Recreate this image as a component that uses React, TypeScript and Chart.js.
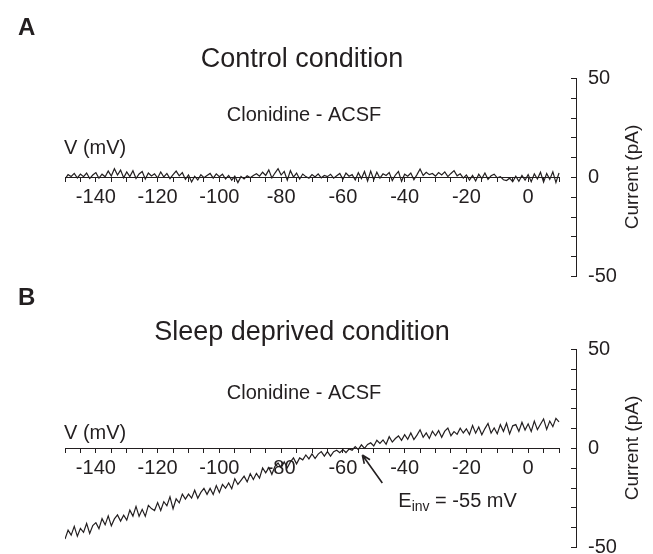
import React, { useEffect, useRef } from "react";
import { Chart, registerables } from "chart.js";

Chart.register(...registerables);

const FONT = '"Liberation Sans", Arial, Helvetica, sans-serif';
const INK = "#231f20";

// Membrane voltage of each sample (mV)
const voltageMv = [
  -150, -149, -148, -147, -146, -145, -144, -143, -142, -141,
  -140, -139, -138, -137, -136, -135, -134, -133, -132, -131,
  -130, -129, -128, -127, -126, -125, -124, -123, -122, -121,
  -120, -119, -118, -117, -116, -115, -114, -113, -112, -111,
  -110, -109, -108, -107, -106, -105, -104, -103, -102, -101,
  -100, -99, -98, -97, -96, -95, -94, -93, -92, -91,
  -90, -89, -88, -87, -86, -85, -84, -83, -82, -81,
  -80, -79, -78, -77, -76, -75, -74, -73, -72, -71,
  -70, -69, -68, -67, -66, -65, -64, -63, -62, -61,
  -60, -59, -58, -57, -56, -55, -54, -53, -52, -51,
  -50, -49, -48, -47, -46, -45, -44, -43, -42, -41,
  -40, -39, -38, -37, -36, -35, -34, -33, -32, -31,
  -30, -29, -28, -27, -26, -25, -24, -23, -22, -21,
  -20, -19, -18, -17, -16, -15, -14, -13, -12, -11,
  -10, -9, -8, -7, -6, -5, -4, -3, -2, -1,
  0, 1, 2, 3, 4, 5, 6, 7, 8, 9, 10,
];

// Panel A: control condition, clonidine - ACSF difference current (pA)
const controlCurrentPa = [
  -1.0, 1.2, 0.3, 1.8, -0.5, 1.5, 0.2, 2.0, -0.8, 1.0,
  2.2, -0.6, 1.4, 0.1, 3.0, 0.5, 4.2, 1.0, 3.5, -0.4,
  2.6, 0.2, 3.2, -0.8, 1.5, 2.8, -1.0, 2.0, 0.5, 1.6,
  -0.5, 2.5, 0.0, 1.8, -0.8, 1.2, 3.0, 0.6, 2.2, -1.2,
  1.0, -2.5, 0.4, -1.5, 1.2, -0.4, 0.8, 1.8, -0.6, 1.6,
  0.2, 1.4, -1.0, 0.8, -1.6, 0.4, -2.8, 0.3, -1.0, 0.6,
  -0.4, 0.8, 1.6, 0.4, 2.4, 0.8, 3.6, -0.5, 2.0, 4.2,
  1.0, 2.8, -1.6, 3.2, 0.0, 2.0, -1.0, 1.5, 0.2, -0.6,
  1.2, 0.0, 1.6, -0.4, 0.8, 0.2, 1.4, -0.6, 0.6, 1.8,
  -1.2, 2.0, 0.4, 1.2, -1.5, 2.2, -0.8, 2.8, -2.0, 3.0,
  -1.4, 2.4, -0.6, 1.6, 0.8, 2.2, -1.8, 1.0, 2.8, -2.2,
  1.4, 0.4, 2.0, -1.4, 1.2, 4.0, 0.8, 2.4, 1.2, 1.8,
  0.4, 2.2, 1.0, 2.6, 0.2, 1.8, 3.2, 0.6, 1.6, -0.6,
  1.0, -1.6, 0.8, -2.0, 1.4, -0.8, 2.0, -1.2, 0.6, 1.4,
  -0.4, 0.2, -1.4, -1.8, -0.6, -2.4, 0.4, -2.2, 0.8, -1.6,
  1.2, -2.4, 1.6, -1.0, 2.4, -2.6, 1.8, -1.2, 2.6, -2.8, 2.0,
];

// Panel B: sleep deprived condition, clonidine - ACSF difference current (pA)
const sleepDeprivedCurrentPa = [
  -46.0, -41.5, -44.0, -39.6, -44.6, -40.6, -42.6, -38.1, -43.2, -39.2,
  -37.7, -40.7, -35.7, -38.8, -34.3, -39.3, -35.8, -33.8, -36.9, -33.9,
  -36.4, -31.4, -34.4, -29.5, -34.5, -31.0, -34.5, -29.0, -30.6, -31.6,
  -27.6, -31.6, -27.1, -29.2, -24.7, -30.7, -25.7, -27.7, -23.3, -25.8,
  -23.3, -25.3, -21.3, -25.4, -22.4, -20.4, -23.4, -20.4, -23.5, -19.0,
  -22.5, -18.4, -20.3, -17.7, -20.6, -15.5, -18.4, -16.3, -14.2, -17.1,
  -13.0, -15.9, -12.8, -15.2, -10.1, -12.5, -9.9, -13.3, -9.2, -7.6,
  -10.0, -7.0, -10.0, -7.0, -5.0, -8.0, -5.0, -6.0, -3.5, -5.5,
  -3.0, -5.3, -3.1, -1.8, -4.1, -1.8, -4.1, -1.9, -1.1, -2.4,
  -0.8, -2.3, -0.5, -1.1, 0.7, -0.8, 1.6, -0.2, 1.8, 2.6,
  1.0, 3.9, 2.3, 4.1, 1.9, 5.7, 3.0, 4.8, 6.1, 3.9,
  6.7, 4.4, 7.6, 4.3, 6.5, 9.2, 5.4, 7.6, 4.8, 8.5,
  6.2, 8.8, 5.4, 8.5, 10.1, 6.2, 8.3, 6.9, 10.0, 7.6,
  9.7, 6.8, 11.4, 7.5, 10.6, 6.7, 9.8, 12.4, 7.5, 10.1,
  7.2, 11.8, 8.4, 12.5, 7.1, 11.2, 11.8, 8.4, 13.0, 9.1,
  12.2, 8.4, 13.6, 9.3, 12.0, 14.7, 9.4, 13.6, 10.8, 15.0, 13.2,
];

const xTickLabels = [-140, -120, -100, -80, -60, -40, -20, 0];
const yTickValues = [-50, -40, -30, -20, -10, 0, 10, 20, 30, 40, 50];
const yTickLabels = [-50, 0, 50];
const reversalPotentialMv = -55;

type Panel = {
  letter: string;
  title: string;
  subtitle: string;
  values: number[];
  top: number;
  height: number;
  padTop: number;
  padBottom: number;
  letterY: number;
  titleY: number;
  subtitleY: number;
  vLabelY: number;
  titleSize: number;
  showReversal: boolean;
};

const panels: Panel[] = [
  {
    letter: "A",
    title: "Control condition",
    subtitle: "Clonidine - ACSF",
    values: controlCurrentPa,
    top: 0,
    height: 300,
    padTop: 78,
    padBottom: 24,
    letterY: 28,
    titleY: 60,
    subtitleY: 115,
    vLabelY: 148,
    titleSize: 27,
    showReversal: false,
  },
  {
    letter: "B",
    title: "Sleep deprived condition",
    subtitle: "Clonidine - ACSF",
    values: sleepDeprivedCurrentPa,
    top: 280,
    height: 274,
    padTop: 69,
    padBottom: 7,
    letterY: 18,
    titleY: 53,
    subtitleY: 113,
    vLabelY: 153,
    titleSize: 27,
    showReversal: true,
  },
];

function decorPlugin(p: Panel) {
  return {
    id: "decor" + p.letter,
    beforeDatasetsDraw(chart: any) {
      const { ctx, scales } = chart;
      const xs = scales.x;
      const ys = scales.y;
      const y0 = Math.round(ys.getPixelForValue(0)) + 0.5;
      ctx.save();
      ctx.strokeStyle = INK;
      ctx.lineWidth = 1;
      ctx.beginPath();
      ctx.moveTo(xs.getPixelForValue(voltageMv[0]), y0);
      ctx.lineTo(xs.getPixelForValue(voltageMv[voltageMv.length - 1]), y0);
      // inward ticks on the current axis
      const ax = Math.round(ys.left);
      for (const t of ys.ticks) {
        const py = Math.round(ys.getPixelForValue(t.value)) + 0.5;
        ctx.moveTo(ax - 5, py);
        ctx.lineTo(ax, py);
      }
      ctx.stroke();
      ctx.restore();
    },
    afterDraw(chart: any) {
      const { ctx, scales } = chart;
      const xs = scales.x;
      const ys = scales.y;
      ctx.save();
      ctx.fillStyle = INK;
      ctx.textBaseline = "middle";

      ctx.font = `bold 24px ${FONT}`;
      ctx.textAlign = "left";
      ctx.fillText(p.letter, 18, p.letterY);

      ctx.font = `${p.titleSize}px ${FONT}`;
      ctx.textAlign = "center";
      ctx.fillText(p.title, 302, p.titleY);

      ctx.font = `20px ${FONT}`;
      ctx.fillText(p.subtitle, 304, p.subtitleY);

      ctx.textAlign = "left";
      ctx.fillText("V (mV)", 64, p.vLabelY);

      // rotated axis title
      ctx.save();
      ctx.translate(633, ys.getPixelForValue(0));
      ctx.rotate(-Math.PI / 2);
      ctx.textAlign = "center";
      ctx.font = `19px ${FONT}`;
      ctx.fillText("Current (pA)", 0, 0);
      ctx.restore();

      if (p.showReversal) {
        const tx = xs.getPixelForValue(reversalPotentialMv);
        const ty = ys.getPixelForValue(0);
        const tipX = tx + 4;
        const tipY = ty + 7;
        const tailX = tx + 24;
        const tailY = ty + 35;
        ctx.strokeStyle = INK;
        ctx.lineWidth = 1.6;
        ctx.beginPath();
        ctx.moveTo(tailX, tailY);
        ctx.lineTo(tipX, tipY);
        const ang = Math.atan2(tipY - tailY, tipX - tailX);
        const hl = 9;
        ctx.moveTo(tipX, tipY);
        ctx.lineTo(tipX - hl * Math.cos(ang - 0.4), tipY - hl * Math.sin(ang - 0.4));
        ctx.moveTo(tipX, tipY);
        ctx.lineTo(tipX - hl * Math.cos(ang + 0.4), tipY - hl * Math.sin(ang + 0.4));
        ctx.stroke();

        let x = tailX + 16;
        const yText = tailY + 18;
        ctx.font = `20px ${FONT}`;
        ctx.textAlign = "left";
        ctx.fillText("E", x, yText);
        x += ctx.measureText("E").width;
        ctx.font = `14px ${FONT}`;
        ctx.fillText("inv", x, yText + 6);
        x += ctx.measureText("inv").width;
        ctx.font = `20px ${FONT}`;
        ctx.fillText(` = ${reversalPotentialMv} mV`, x, yText);
      }
      ctx.restore();
    },
  };
}

function PanelChart({ p }: { p: Panel }) {
  const ref = useRef<HTMLCanvasElement | null>(null);
  useEffect(() => {
    if (!ref.current) return;
    const chart = new Chart(ref.current, {
      type: "line",
      data: {
        datasets: [
          {
            data: voltageMv.map((v, i) => ({ x: v, y: p.values[i] })),
            borderColor: INK,
            borderWidth: 1.2,
            pointRadius: 0,
            tension: 0,
            fill: false,
          },
        ],
      },
      options: {
        responsive: false,
        animation: false,
        devicePixelRatio: 1,
        layout: { padding: { left: 65, top: p.padTop, bottom: p.padBottom, right: 0 } },
        plugins: { legend: { display: false }, tooltip: { enabled: false }, title: { display: false } },
        scales: {
          x: {
            type: "linear",
            min: -150,
            max: 15.5,
            position: { y: 0 } as any,
            afterBuildTicks: (s: any) => {
              s.ticks = s.ticks.filter((t: any) => t.value <= voltageMv[voltageMv.length - 1] && t.value >= voltageMv[0]);
            },
            ticks: {
              stepSize: 5,
              autoSkip: false,
              maxRotation: 0,
              minRotation: 0,
              padding: 3,
              color: INK,
              font: { family: FONT, size: 20 },
              callback: (v: any) => (xTickLabels.includes(Number(v)) ? String(v) : ""),
            },
            grid: { display: true, drawOnChartArea: false, drawTicks: true, tickLength: 5, color: INK, lineWidth: 1 },
            border: { display: false },
          },
          y: {
            type: "linear",
            position: "right",
            min: -50,
            max: 50,
            afterBuildTicks: (s: any) => {
              s.ticks = yTickValues.map((v) => ({ value: v }));
            },
            afterFit: (s: any) => {
              s.width = 77;
              s.paddingTop = 0;
              s.paddingBottom = 0;
            },
            ticks: {
              autoSkip: false,
              padding: 12,
              color: INK,
              font: { family: FONT, size: 20 },
              callback: (v: any) => (yTickLabels.includes(Number(v)) ? String(v) : ""),
            },
            grid: { display: true, drawOnChartArea: false, drawTicks: false },
            border: { display: true, color: INK, width: 1 },
          },
        },
      } as any,
      plugins: [decorPlugin(p)],
    });
    return () => chart.destroy();
  }, [p]);
  return (
    <canvas
      ref={ref}
      width={653}
      height={p.height}
      style={{ position: "absolute", left: 0, top: p.top, width: 653, height: p.height }}
    />
  );
}

export default function App() {
  return (
    <div style={{ position: "absolute", left: 0, top: 0, width: 653, height: 554, background: "#fff", overflow: "hidden" }}>
      {panels.map((p) => (
        <PanelChart key={p.letter} p={p} />
      ))}
    </div>
  );
}
